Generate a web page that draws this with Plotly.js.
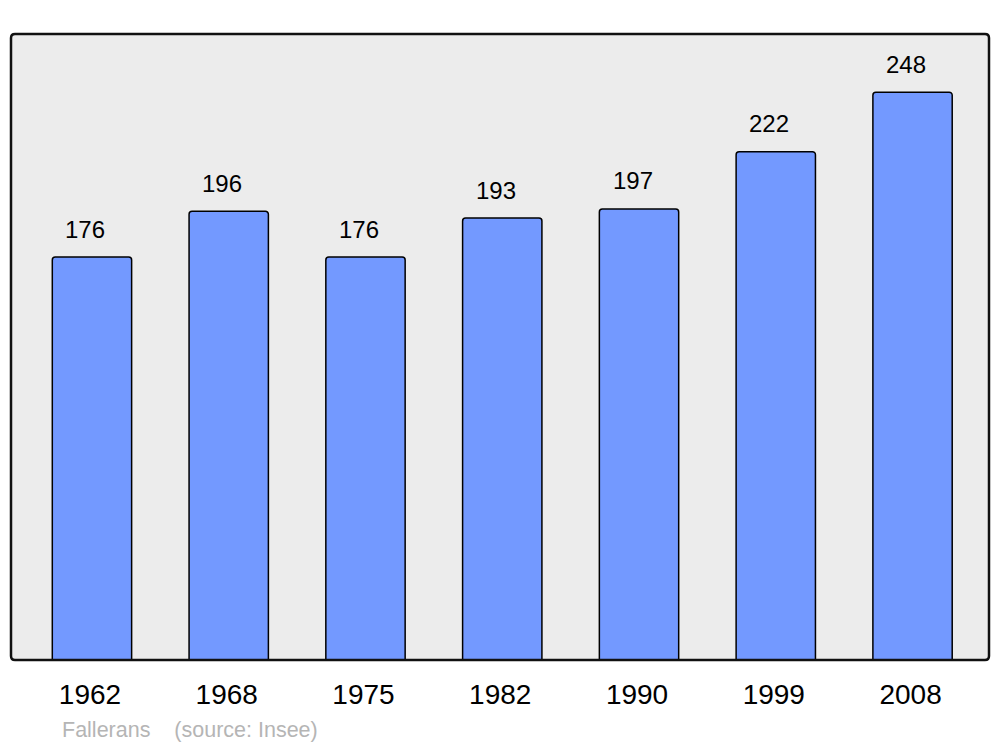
<!DOCTYPE html>
<html>
<head>
<meta charset="utf-8">
<script src="https://cdn.plot.ly/plotly-3.0.1.min.js"></script>
<style>html,body{margin:0;padding:0;background:#fff;}#chart{width:1000px;height:747px;}</style>
</head>
<body>
<div id="chart"></div>
<script>
const years = ['1962', '1968', '1975', '1982', '1990', '1999', '2008'];
const population = [176, 196, 176, 193, 197, 222, 248];
const townName = 'Fallerans';
const sourceNote = '(source: Insee)';

const trace = {
  type: 'bar',
  x: years,
  y: population,
  marker: {
    color: '#7399ff',
    line: {color: '#000000', width: 1.5},
    cornerradius: 3
  },
  hoverinfo: 'x+y'
};

// category axis: position annotations by category index
const annotations = years.map((yr, i) => ({
  x: i, y: population[i], xref: 'x', yref: 'y',
  text: String(population[i]),
  showarrow: false,
  xanchor: 'center', yanchor: 'middle',
  xshift: -6.5, yshift: 28,
  font: {family: 'Liberation Sans, Arial, sans-serif', size: 24, color: '#000000'}
}));

annotations.push({
  xref: 'paper', yref: 'paper',
  x: 0.0497, y: -0.1118,
  xanchor: 'left', yanchor: 'middle',
  text: townName + '\u00a0\u00a0\u00a0\u00a0' + sourceNote,
  showarrow: false,
  font: {family: 'Liberation Sans, Arial, sans-serif', size: 21.5, color: '#b5b5b5'}
});

const rx = 4 / 978, ry = 4 / 626;
const framePath = `M ${rx} 0 L ${1 - rx} 0 Q 1 0 1 ${ry} L 1 ${1 - ry} Q 1 1 ${1 - rx} 1 L ${rx} 1 Q 0 1 0 ${1 - ry} L 0 ${ry} Q 0 0 ${rx} 0 Z`;

const layout = {
  width: 1000, height: 747,
  margin: {l: 11, r: 11, t: 34, b: 87, pad: 0},
  paper_bgcolor: '#ffffff',
  plot_bgcolor: '#ececec',
  bargap: 0.42,
  showlegend: false,
  font: {family: 'Liberation Sans, Arial, sans-serif', color: '#000000'},
  xaxis: {
    type: 'category',
    range: [-0.592, 6.559],
    showgrid: false, zeroline: false, showline: false,
    ticks: '',
    ticklabelstandoff: 15,
    ticklabelshift: -2,
    tickfont: {size: 28, color: '#000000', family: 'Liberation Sans, Arial, sans-serif'}
  },
  yaxis: {
    range: [0, 273.4],
    showgrid: false, zeroline: false, showline: false,
    showticklabels: false, ticks: ''
  },
  shapes: [{
    type: 'path', xref: 'paper', yref: 'paper',
    path: framePath,
    line: {color: '#111111', width: 2.5},
    fillcolor: 'rgba(0,0,0,0)',
    layer: 'above'
  }],
  annotations: annotations
};

Plotly.newPlot('chart', [trace], layout, {displayModeBar: false, staticPlot: true});
</script>
</body>
</html>
